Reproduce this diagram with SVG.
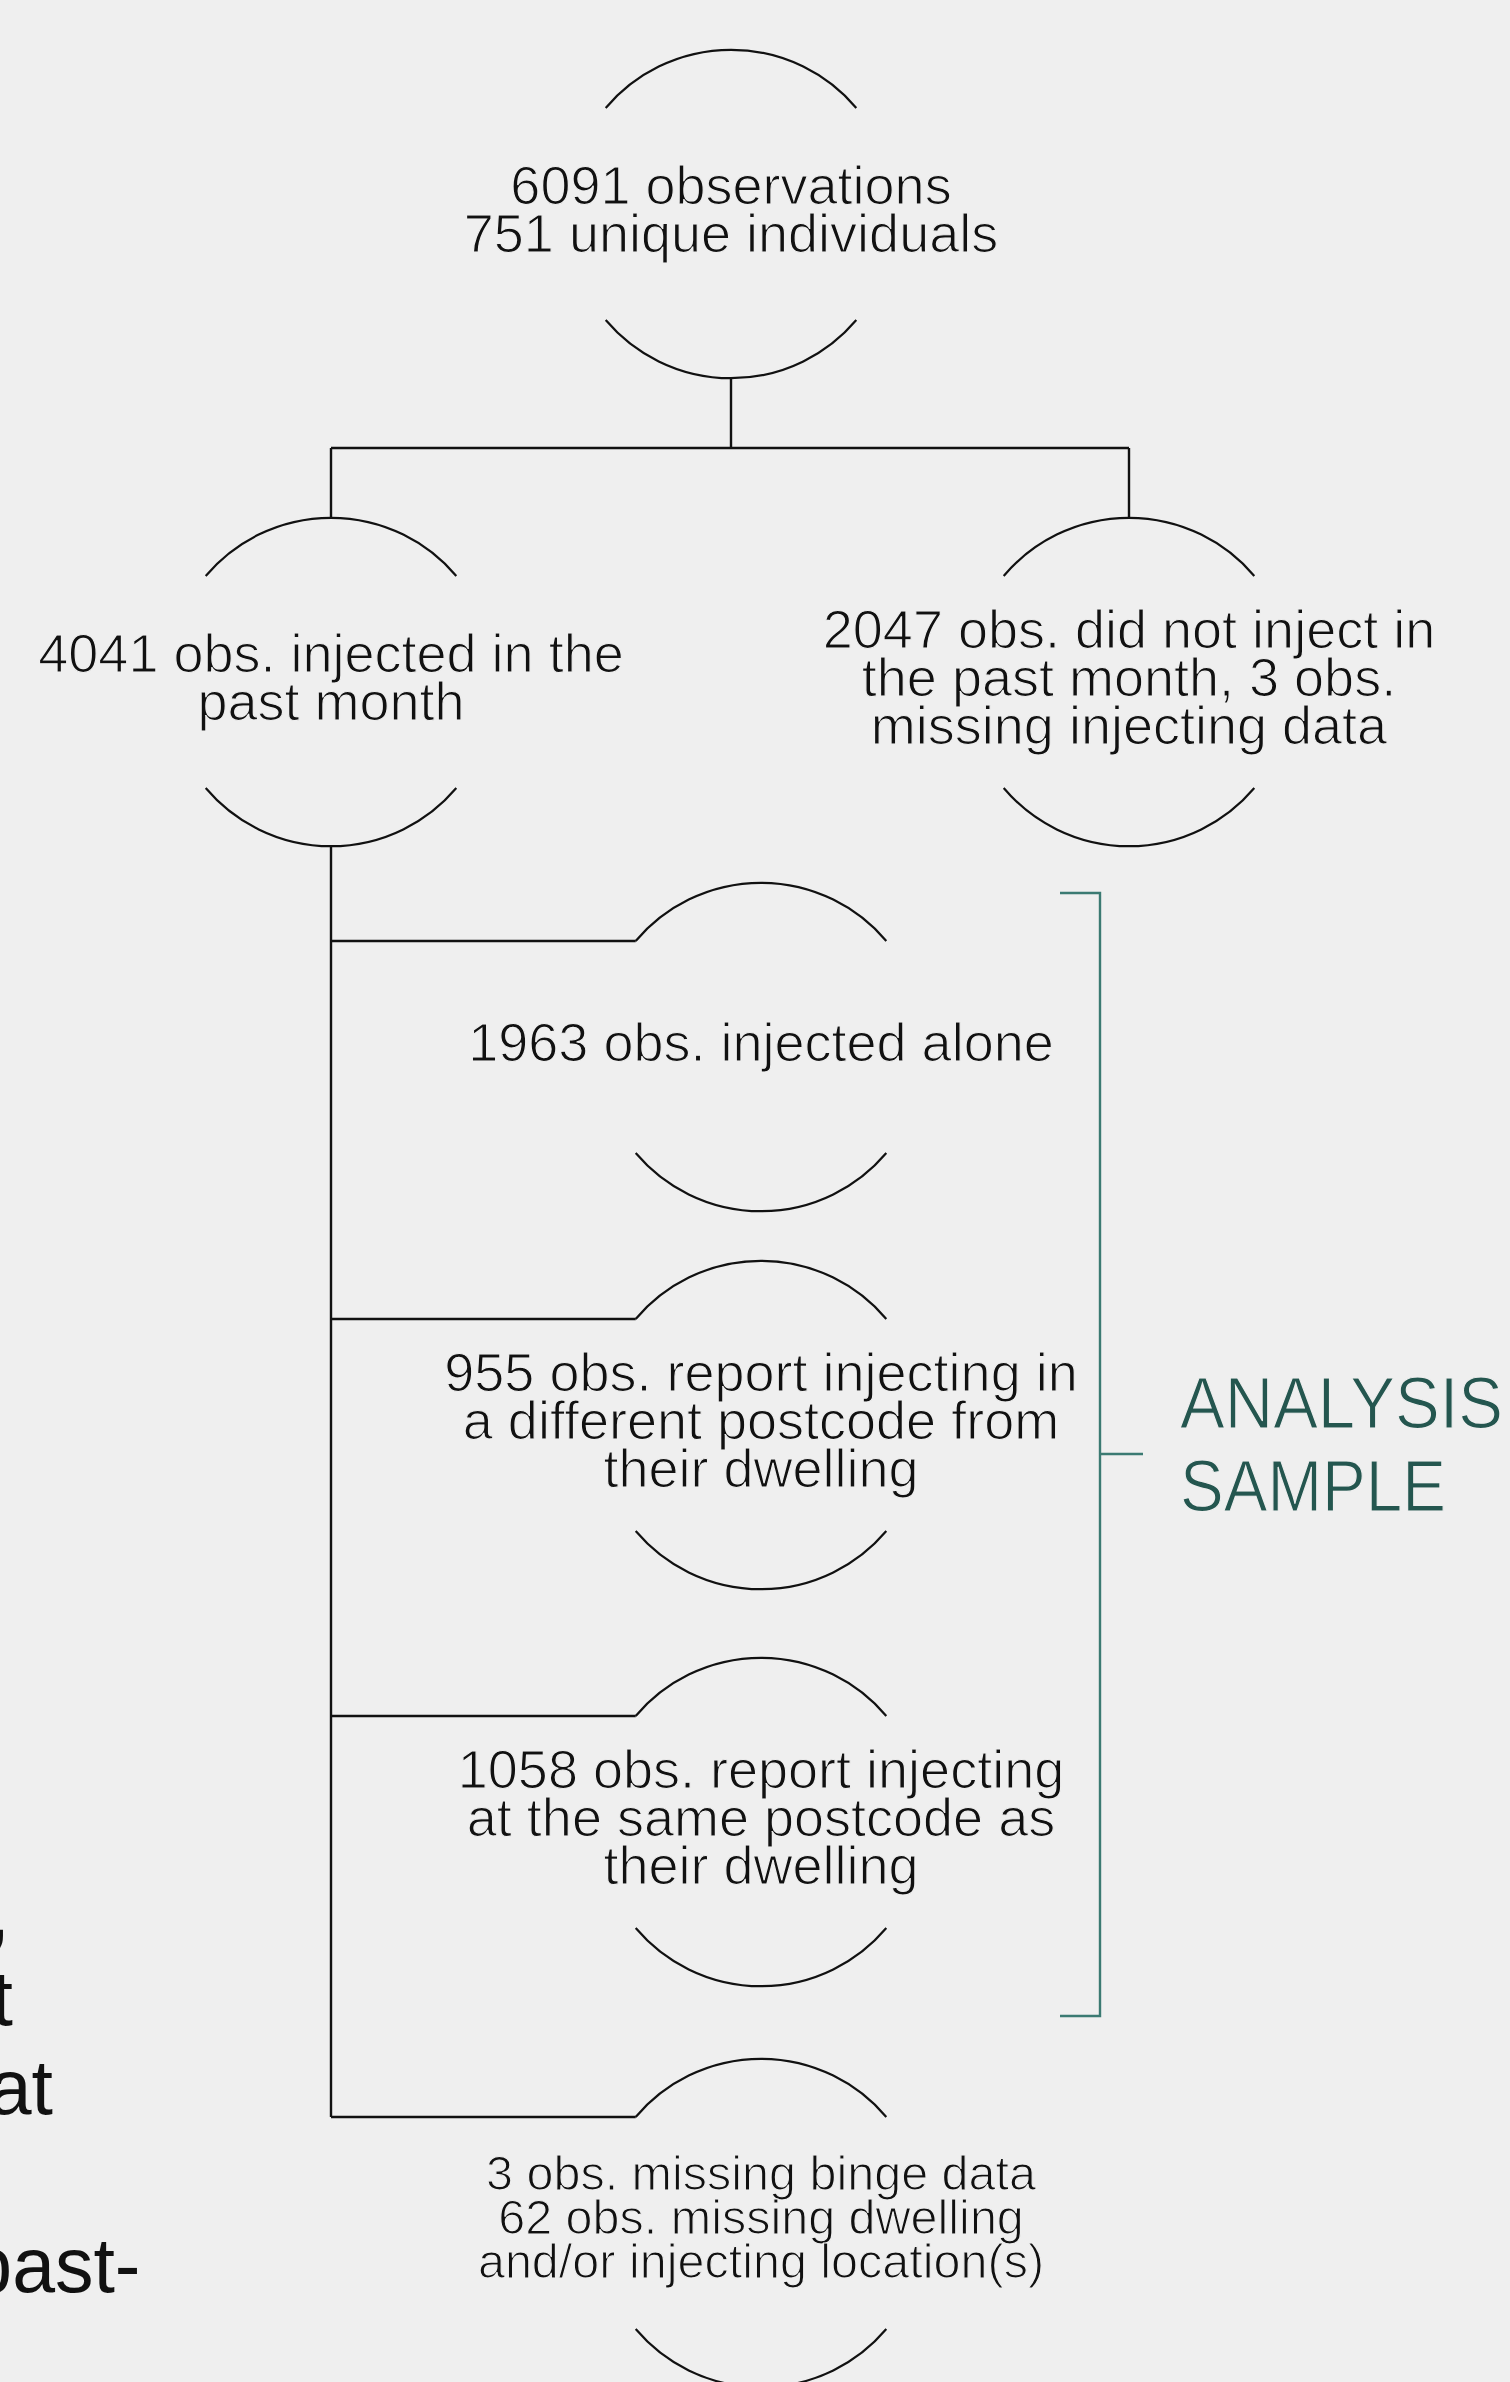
<svg xmlns="http://www.w3.org/2000/svg" width="1510" height="2382" viewBox="0 0 1510 2382">
<defs>
<style>
.bg{fill:#efefef}
.arc{fill:none;stroke:#111;stroke-width:2.2}
.con{fill:none;stroke:#111;stroke-width:2.4}
.br{fill:none;stroke:#3b7a72;stroke-width:2.4}
.lbl{font-family:"Liberation Sans",Arial,sans-serif;font-size:54px;fill:#111;text-anchor:middle;stroke:#efefef;stroke-width:1.2px}
.sm{font-size:48.5px}
.side{font-family:"Liberation Sans",Arial,sans-serif;font-size:72px;fill:#24564f;stroke:#efefef;stroke-width:1.2px}
.frag{font-family:"Liberation Sans",Arial,sans-serif;font-size:77px;fill:#111;text-anchor:end}
</style>
</defs>
<rect class="bg" x="0" y="0" width="1510" height="2382"/>

<g id="left-fragments">
<text class="frag" x="10" y="1938">,</text>
<text class="frag" x="13" y="2025">t</text>
<text class="frag" x="53" y="2114">at</text>
<text class="frag" x="140.5" y="2292">past-</text>
</g>

<g id="connectors">
<path class="con" d="M731,378 V448 M331,448 H1129 M331,448 V518 M1129,448 V518"/>
<path class="con" d="M331,846 V2117 M331,941 H635.7 M331,1319 H635.7 M331,1716 H635.7 M331,2117 H635.7"/>
</g>

<g id="n0">
<path class="arc" d="M605.7,108 A164,164 0 0 1 856.3,108 M605.7,320 A164,164 0 0 0 856.3,320"/>
<text class="lbl"><tspan x="731" y="204">6091 observations</tspan><tspan x="731" y="252">751 unique individuals</tspan></text>
</g>

<g id="n1">
<path class="arc" d="M205.7,576 A164,164 0 0 1 456.3,576 M205.7,788 A164,164 0 0 0 456.3,788"/>
<text class="lbl"><tspan x="331" y="672">4041 obs. injected in the</tspan><tspan x="331" y="720">past month</tspan></text>
</g>

<g id="n2">
<path class="arc" d="M1003.7,576 A164,164 0 0 1 1254.3,576 M1003.7,788 A164,164 0 0 0 1254.3,788"/>
<text class="lbl"><tspan x="1129" y="648">2047 obs. did not inject in</tspan><tspan x="1129" y="696">the past month, 3 obs.</tspan><tspan x="1129" y="744">missing injecting data</tspan></text>
</g>

<g id="n3">
<path class="arc" d="M635.7,941 A164,164 0 0 1 886.3,941 M635.7,1153 A164,164 0 0 0 886.3,1153"/>
<text class="lbl"><tspan x="761" y="1061">1963 obs. injected alone</tspan></text>
</g>

<g id="n4">
<path class="arc" d="M635.7,1319 A164,164 0 0 1 886.3,1319 M635.7,1531 A164,164 0 0 0 886.3,1531"/>
<text class="lbl"><tspan x="761" y="1391">955 obs. report injecting in</tspan><tspan x="761" y="1439">a different postcode from</tspan><tspan x="761" y="1487">their dwelling</tspan></text>
</g>

<g id="n5">
<path class="arc" d="M635.7,1716 A164,164 0 0 1 886.3,1716 M635.7,1928 A164,164 0 0 0 886.3,1928"/>
<text class="lbl"><tspan x="761" y="1788">1058 obs. report injecting</tspan><tspan x="761" y="1836">at the same postcode as</tspan><tspan x="761" y="1884">their dwelling</tspan></text>
</g>

<g id="n6">
<path class="arc" d="M635.7,2117 A164,164 0 0 1 886.3,2117 M635.7,2329 A164,164 0 0 0 886.3,2329"/>
<text class="lbl sm"><tspan x="761" y="2190">3 obs. missing binge data</tspan><tspan x="761" y="2234">62 obs. missing dwelling</tspan><tspan x="761" y="2278">and/or injecting location(s)</tspan></text>
</g>

<g id="analysis-sample">
<path class="br" d="M1060,893 H1100 V2016 H1060 M1100,1454 H1143"/>
<text class="side" x="1180" y="1428" textLength="323" lengthAdjust="spacingAndGlyphs">ANALYSIS</text>
<text class="side" x="1180" y="1510.5" textLength="266" lengthAdjust="spacingAndGlyphs">SAMPLE</text>
</g>
</svg>
